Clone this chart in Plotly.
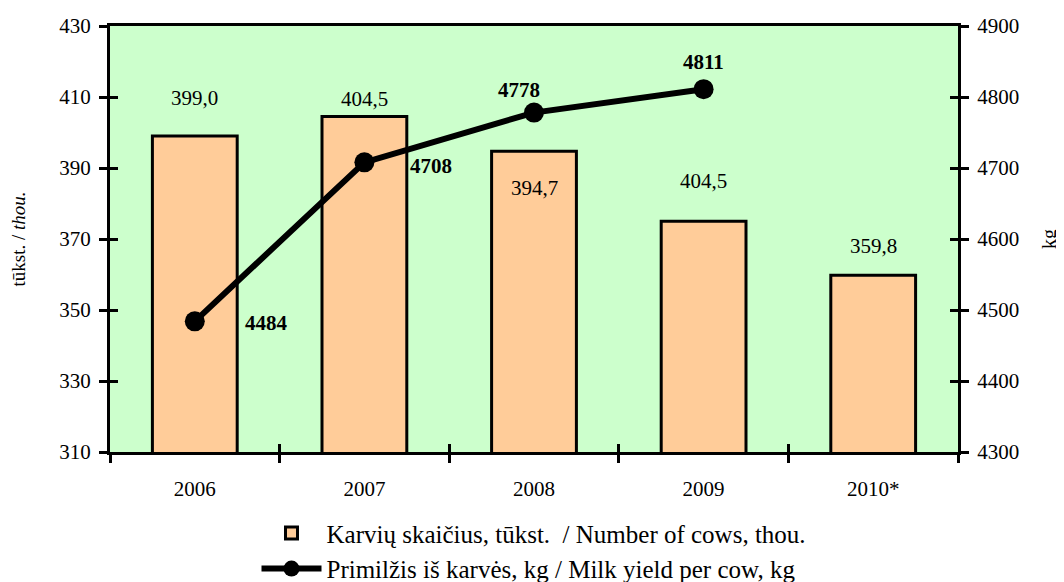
import plotly.graph_objects as go

years = ["2006", "2007", "2008", "2009", "2010*"]
cows = [399.0, 404.5, 394.7, 375.0, 359.8]
cow_labels = ["399,0", "404,5", "394,7", "404,5", "359,8"]
yield_years = ["2006", "2007", "2008", "2009"]
milk_yield = [4484, 4708, 4778, 4811]
yield_labels = ["4484", "4708", "4778", "4811"]

FONT = "Liberation Serif"

fig = go.Figure()
fig.add_trace(go.Bar(
    x=years, y=cows, width=0.5,
    marker=dict(color="#FFCC99", line=dict(color="black", width=3)),
    name="Karvių skaičius, tūkst.  / Number of cows, thou.",
    yaxis="y",
))
fig.add_trace(go.Scatter(
    x=yield_years, y=milk_yield, mode="lines+markers",
    line=dict(color="black", width=6),
    marker=dict(color="black", size=20),
    name="Primilžis iš karvės, kg / Milk yield per cow, kg",
    yaxis="y2",
))
# invisible helpers so the inner-tick overlay axes are drawn
fig.add_trace(go.Scatter(x=[None], y=[None], xaxis="x2", yaxis="y3",
                         showlegend=False, hoverinfo="skip"))
fig.add_trace(go.Scatter(x=[None], y=[None], xaxis="x2", yaxis="y4",
                         showlegend=False, hoverinfo="skip"))

bar_shifts = [38, 18, -37, 40, 29]
for i, (v, t, s) in enumerate(zip(cows, cow_labels, bar_shifts)):
    fig.add_annotation(x=i, y=v, xref="x", yref="y", text=t, showarrow=False,
                       yshift=s, font=dict(family=FONT, size=21, color="black"))

line_shifts = [(72, -2), (67, -4), (-15, 23), (0, 27)]
for i, (v, t, (dx, dy)) in enumerate(zip(milk_yield, yield_labels, line_shifts)):
    fig.add_annotation(x=i, y=v, xref="x", yref="y2", text="<b>" + t + "</b>", showarrow=False,
                       xshift=dx, yshift=dy, font=dict(family=FONT, size=21, color="black"))

axis_common = dict(showline=True, linecolor="black", linewidth=3, ticks="outside",
                   tickcolor="black", tickwidth=3, ticklen=8, showgrid=False,
                   zeroline=False, automargin=False,
                   tickfont=dict(family=FONT, size=21, color="black"))
inner = dict(showline=False, ticks="inside", tickcolor="black", tickwidth=3, ticklen=8,
             showgrid=False, zeroline=False, showticklabels=False, automargin=False)

y1_ticks = [310, 330, 350, 370, 390, 410, 430]
y2_ticks = [4300, 4400, 4500, 4600, 4700, 4800, 4900]

fig.update_layout(
    width=1056, height=574,
    margin=dict(l=102, r=106, t=18, b=130, autoexpand=False),
    paper_bgcolor="white", plot_bgcolor="#CCFFCC",
    font=dict(family=FONT, color="black"),
    xaxis=dict(type="category", tickson="boundaries", range=[-0.5, 4.5],
               mirror=True, ticklabelstandoff=16, **axis_common),
    xaxis2=dict(overlaying="x", range=[-0.5, 4.5], side="bottom",
                tickvals=[-0.5, 0.5, 1.5, 2.5, 3.5, 4.5], **inner),
    yaxis=dict(range=[310, 430], tickvals=y1_ticks, ticklabelstandoff=4,
               title=dict(text="tūkst. / <i>thou.</i>", font=dict(family=FONT, size=19), standoff=32),
               **axis_common),
    yaxis2=dict(range=[4300, 4900], tickvals=y2_ticks,
                overlaying="y", side="right", ticklabelstandoff=4,
                title=dict(text="kg", font=dict(family=FONT, size=20), standoff=24),
                **axis_common),
    yaxis3=dict(range=[310, 430], tickvals=y1_ticks, overlaying="y", side="left", **inner),
    yaxis4=dict(range=[4300, 4900], tickvals=y2_ticks, overlaying="y", side="right", **inner),
    showlegend=True,
    legend=dict(orientation="v", x=0.5, xanchor="center", y=-0.137, yanchor="top",
                font=dict(family=FONT, size=25, color="black"), bgcolor="rgba(0,0,0,0)",
                itemwidth=60, tracegroupgap=0),
)

fig.write_html("out.html")
